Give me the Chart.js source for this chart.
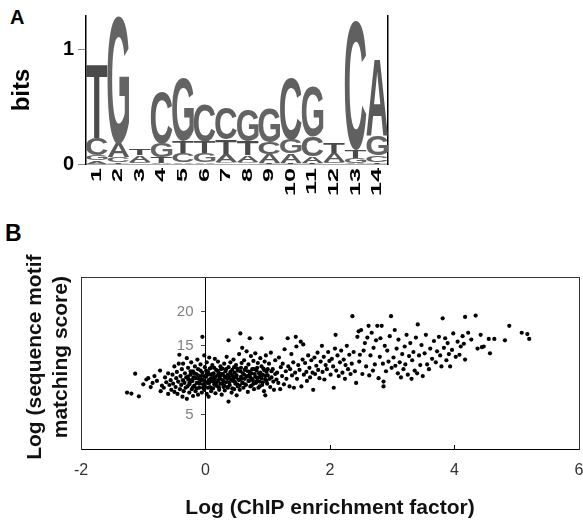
<!DOCTYPE html>
<html lang="en">
<head>
<meta charset="UTF-8">
<title>Motif logo and ChIP enrichment</title>
<script src="https://cdn.jsdelivr.net/npm/chart.js"></script>
<style>
  body { margin: 0; background: #fff; width: 583px; height: 521px; position: relative; overflow: hidden;
         font-family: 'Liberation Sans', Arial, sans-serif; }
  .panel-label { position: absolute; font-weight: bold; color: #000; line-height: 1; }
  #logo { position: absolute; left: 0; top: 0; }
  #scatter { position: absolute; left: 0; top: 220px; }
</style>
</head>
<body>
<div class="panel-label" style="left:10px; top:7px; font-size:20px;">A</div>
<div class="panel-label" style="left:5px; top:222px; font-size:23px;">B</div>
<canvas id="logo" width="400" height="205"></canvas>
<canvas id="scatter" width="583" height="301"></canvas>

<script>
  // ---- panel A : motif logo (bits per letter and position) ----
  const positions = ["1", "2", "3", "4", "5", "6", "7", "8", "9", "10", "11", "12", "13", "14"];
  const bitsA = [0.03, 0.12, 0.06, 0.01, 0.02, 0.02, 0.07, 0.06, 0.08, 0.08, 0.06, 0.08, 0.01, 0.67];
  const bitsC = [0.15, 0.04, 0.01, 0.45, 0.08, 0.32, 0.28, 0.02, 0.10, 0.54, 0.17, 0.01, 1.13, 0.06];
  const bitsG = [0.05, 1.11, 0.01, 0.12, 0.55, 0.08, 0.02, 0.28, 0.30, 0.12, 0.43, 0.01, 0.04, 0.17];
  const bitsT = [0.64, 0.02, 0.06, 0.05, 0.10, 0.10, 0.12, 0.12, 0.01, 0.01, 0.01, 0.09, 0.07, 0.02];
  const bitsTicks = [0, 1];

  // ---- panel B : log enrichment (x) vs log motif score (y) ----
  const leftTail = [
    [-1.26, 8.2], [-1.19, 8.05], [-1.07, 7.66], [-1.13, 10.95], [-1.0, 9.4], [-0.95, 10.1], [-0.92, 10.3],
    [-0.88, 9.0], [-0.85, 9.6], [-0.82, 10.6], [-0.78, 9.9], [-0.73, 11.4], [-0.72, 8.4], [-0.70, 9.2],
    [-0.67, 8.9], [-0.65, 10.4], [-0.63, 9.7], [-0.6, 8.0], [-0.6, 11.0], [-0.58, 9.3], [-0.56, 10.0],
    [-0.55, 8.6], [-0.53, 10.8], [-0.52, 9.5], [-0.5, 12.0], [-0.5, 8.3]
  ];
  const leftCore = [
    [-0.48, 9.0], [-0.47, 10.3], [-0.46, 11.2], [-0.45, 8.0], [-0.44, 9.8], [-0.43, 12.4], [-0.42, 13.7],
    [-0.41, 8.7], [-0.4, 10.6], [-0.39, 9.3], [-0.38, 11.6], [-0.37, 7.6], [-0.36, 12.4], [-0.36, 10.0],
    [-0.35, 8.4], [-0.34, 9.6], [-0.33, 11.0], [-0.32, 8.9], [-0.31, 10.4], [-0.3, 13.2], [-0.3, 7.3],
    [-0.29, 9.1], [-0.28, 11.8], [-0.27, 10.1], [-0.26, 8.2], [-0.25, 9.7],
    [-0.24, 10.8], [-0.23, 12.6], [-0.22, 8.7], [-0.21, 9.9], [-0.2, 11.3], [-0.2, 7.7], [-0.19, 10.4],
    [-0.18, 9.2], [-0.17, 12.0], [-0.16, 8.4], [-0.15, 10.9], [-0.14, 9.6], [-0.13, 13.0], [-0.12, 7.9],
    [-0.12, 11.6], [-0.11, 10.2], [-0.1, 8.9], [-0.09, 9.8], [-0.08, 12.3], [-0.07, 10.6], [-0.06, 8.2],
    [-0.05, 16.3], [-0.05, 11.1], [-0.04, 9.4], [-0.03, 10.0], [-0.02, 13.6], [-0.02, 8.6], [-0.01, 11.9],
    [-0.01, 9.1]
  ];
  const core = [
    [0.01, 10.5], [0.02, 8.0], [0.02, 12.6], [0.03, 9.6], [0.04, 11.2], [0.05, 10.0], [0.05, 7.6], [0.06, 13.3],
    [0.07, 9.0], [0.08, 10.8], [0.09, 11.8], [0.09, 8.4], [0.1, 9.9], [0.11, 12.2], [0.12, 10.4], [0.12, 8.8],
    [0.13, 11.0], [0.14, 9.4], [0.15, 13.1], [0.15, 10.1], [0.16, 8.1], [0.17, 11.5], [0.18, 9.7], [0.19, 10.7],
    [0.2, 12.7], [0.2, 9.1], [0.21, 11.1], [0.22, 8.6], [0.23, 10.3], [0.24, 12.0], [0.24, 9.5], [0.25, 10.9],
    [0.26, 7.9], [0.27, 11.7], [0.28, 10.0], [0.29, 9.0], [0.3, 12.4], [0.3, 10.6],
    [0.31, 8.5], [0.32, 11.3], [0.33, 9.7], [0.34, 13.4], [0.35, 10.2], [0.36, 8.9], [0.37, 15.8], [0.37, 6.9],
    [0.37, 11.9], [0.38, 10.5], [0.39, 9.3], [0.4, 12.6], [0.41, 10.9], [0.42, 8.2], [0.43, 11.5], [0.44, 9.9],
    [0.45, 13.0], [0.45, 10.3], [0.46, 8.7], [0.47, 11.1], [0.48, 9.5], [0.49, 12.2], [0.5, 10.7], [0.5, 7.8],
    [0.51, 11.7], [0.52, 9.1], [0.53, 10.1], [0.54, 13.8], [0.55, 8.6], [0.56, 16.8], [0.56, 11.3], [0.57, 10.5],
    [0.58, 12.5], [0.59, 14.7], [0.59, 9.6],
    [0.6, 11.0], [0.61, 8.9], [0.62, 12.9], [0.63, 10.2], [0.64, 9.4], [0.65, 11.8], [0.66, 14.2], [0.67, 10.6],
    [0.68, 8.3], [0.69, 12.3], [0.7, 9.9], [0.71, 16.1], [0.71, 11.2], [0.72, 10.4], [0.73, 13.5], [0.74, 9.2],
    [0.75, 11.6], [0.76, 10.0], [0.77, 12.8], [0.78, 8.7], [0.79, 10.9], [0.8, 13.9], [0.81, 9.6], [0.82, 11.4],
    [0.83, 10.3], [0.84, 12.5], [0.85, 8.9], [0.86, 11.0], [0.87, 9.8], [0.88, 13.2], [0.89, 10.6], [0.9, 16.1],
    [0.9, 12.0], [0.91, 9.3], [0.92, 10.8], [0.93, 11.7], [0.94, 8.4], [0.95, 12.7], [0.96, 7.8], [0.96, 10.1],
    [0.97, 13.6], [0.98, 11.2], [0.99, 9.5], [1.0, 10.7]
  ];
  const coreDense = [
    [-0.28, 10.5], [-0.26, 9.4], [-0.24, 11.3], [-0.22, 10.0], [-0.2, 9.0], [-0.18, 11.0], [-0.16, 10.3],
    [-0.14, 8.8], [-0.12, 10.7], [-0.1, 9.5], [-0.08, 11.4], [-0.06, 10.1], [-0.04, 8.9], [-0.02, 10.6],
    [0.0, 9.7], [0.01, 11.4], [0.03, 10.8], [0.04, 8.9], [0.06, 9.6], [0.07, 11.7], [0.08, 10.2], [0.1, 8.8],
    [0.11, 10.9], [0.13, 9.8], [0.14, 11.8], [0.16, 10.5], [0.17, 9.2], [0.19, 11.4], [0.21, 10.0], [0.22, 8.9],
    [0.24, 10.7], [0.25, 11.6], [0.27, 9.5], [0.28, 10.9], [0.3, 9.2], [0.32, 10.4], [0.33, 11.6], [0.35, 9.0],
    [0.36, 10.8], [0.38, 9.7], [0.4, 11.2], [0.41, 10.1], [0.43, 8.8], [0.44, 10.6], [0.46, 11.9], [0.47, 9.8],
    [0.49, 10.4], [0.51, 9.4], [0.52, 11.4], [0.54, 10.0], [0.55, 9.2], [0.57, 11.8], [0.58, 10.2], [0.6, 9.6],
    [0.62, 10.8], [0.63, 11.5], [0.65, 9.3], [0.66, 10.5], [0.68, 11.3], [0.69, 9.9], [0.71, 10.8], [0.72, 9.1],
    [0.74, 11.0], [0.75, 10.2], [0.77, 9.5], [0.78, 11.6], [0.8, 10.5], [0.82, 9.8], [0.83, 11.8], [0.85, 10.4],
    [0.87, 9.1], [0.88, 11.1], [0.9, 10.3], [0.92, 9.7], [0.94, 11.5], [0.96, 10.6], [0.98, 9.9], [1.0, 11.6],
    [1.03, 10.2], [1.06, 11.3], [1.09, 9.8], [1.12, 10.9]
  ];
  const midRange = [
    [1.02, 12.4], [1.04, 9.0], [1.05, 14.0], [1.06, 10.4], [1.08, 11.6], [1.1, 8.6], [1.12, 12.9], [1.14, 10.1],
    [1.15, 11.1], [1.17, 9.6], [1.18, 13.3], [1.2, 8.7], [1.21, 11.9], [1.23, 10.6], [1.24, 12.4], [1.26, 9.4],
    [1.27, 14.5], [1.29, 11.3], [1.3, 10.2], [1.32, 16.1], [1.33, 12.0], [1.35, 9.1], [1.36, 11.6], [1.38, 13.8],
    [1.39, 10.7], [1.41, 12.6], [1.42, 8.9], [1.44, 11.1], [1.45, 16.3], [1.46, 14.9], [1.47, 10.2], [1.49, 12.2],
    [1.51, 11.5], [1.53, 15.6], [1.54, 9.1], [1.56, 13.0], [1.57, 15.2], [1.58, 10.8], [1.6, 12.5], [1.62, 11.2],
    [1.63, 9.9], [1.65, 13.6], [1.67, 11.8], [1.68, 10.4], [1.7, 12.9], [1.72, 11.1], [1.73, 8.6], [1.75, 13.3],
    [1.76, 10.9], [1.78, 12.1], [1.8, 14.0], [1.81, 11.5], [1.83, 10.3], [1.85, 12.7], [1.87, 15.0], [1.88, 11.2],
    [1.9, 13.4], [1.91, 10.1], [1.93, 12.2], [1.95, 11.6], [1.97, 14.1], [1.99, 12.8]
  ];
  const upperRange = [
    [2.01, 10.8], [2.03, 13.1], [2.05, 12.0], [2.06, 8.9], [2.08, 14.6], [2.09, 16.6], [2.1, 11.4], [2.12, 13.6],
    [2.14, 10.6], [2.16, 12.6], [2.18, 14.3], [2.2, 11.1], [2.22, 13.0], [2.24, 10.2], [2.25, 12.2], [2.27, 15.0],
    [2.29, 11.6], [2.31, 13.7], [2.33, 10.9], [2.35, 12.4], [2.36, 19.3], [2.38, 14.1], [2.4, 11.3], [2.42, 9.6],
    [2.44, 16.3], [2.46, 17.1], [2.47, 12.7], [2.48, 13.7], [2.5, 17.3],
    [2.52, 10.9], [2.54, 14.3], [2.56, 15.4], [2.58, 12.0], [2.6, 16.2], [2.62, 17.9], [2.63, 10.7], [2.65, 13.6],
    [2.67, 16.9], [2.69, 11.4], [2.7, 14.7], [2.72, 12.3], [2.74, 15.8], [2.76, 17.9], [2.78, 10.3], [2.8, 13.4],
    [2.81, 16.1], [2.83, 17.9], [2.85, 12.4], [2.86, 9.1], [2.86, 9.8], [2.88, 15.0], [2.9, 11.3], [2.92, 14.3],
    [2.94, 12.7], [2.96, 16.4], [2.98, 19.3], [2.99, 11.8],
    [3.02, 13.3], [3.04, 17.3], [3.05, 12.1], [3.07, 14.6], [3.09, 11.0], [3.1, 15.9], [3.12, 12.6], [3.14, 10.4],
    [3.16, 13.8], [3.18, 11.6], [3.2, 14.9], [3.21, 12.3], [3.23, 16.6], [3.25, 10.8], [3.27, 13.5], [3.29, 15.4],
    [3.31, 10.2], [3.32, 12.9], [3.34, 14.1], [3.36, 11.4], [3.38, 16.2], [3.4, 11.0], [3.41, 18.1], [3.43, 13.6],
    [3.45, 12.2], [3.47, 15.1], [3.49, 10.6]
  ];
  const highRange = [
    [3.52, 13.9], [3.54, 16.6], [3.56, 12.3], [3.59, 11.6], [3.61, 14.6], [3.64, 13.1], [3.67, 15.7], [3.7, 12.6],
    [3.72, 14.2], [3.75, 16.3], [3.77, 13.6], [3.79, 12.0], [3.81, 19.0], [3.83, 14.7], [3.85, 16.1], [3.87, 12.9],
    [3.89, 15.4], [3.91, 13.8], [3.93, 12.0], [3.96, 14.4], [3.98, 16.8],
    [4.02, 13.4], [4.05, 15.6], [4.08, 13.7], [4.1, 14.9], [4.13, 16.4], [4.15, 15.3], [4.17, 13.0], [4.17, 19.2],
    [4.22, 16.9], [4.27, 15.9], [4.34, 19.4], [4.37, 14.6], [4.44, 14.8], [4.42, 16.6], [4.47, 14.9], [4.57, 13.9],
    [4.55, 16.0], [4.64, 16.0], [4.81, 15.8], [4.88, 17.9], [5.08, 16.9], [5.17, 16.7], [5.2, 16.0]
  ];
  const enrichTicks = [-2, 0, 2, 4, 6];
  const scoreTicks = [5, 10, 15, 20];

  Chart.defaults.font.family = "'Liberation Sans', Arial, sans-serif";

  // logo: each column sorted so the biggest letter sits on top
  const letterColors = { A: "#5a5a5a", C: "#606060", G: "#646464", T: "#4a4a4a" };
  const stackRows = [[], [], [], []];
  positions.forEach((p, i) => {
    const col = [["A", bitsA[i]], ["C", bitsC[i]], ["G", bitsG[i]], ["T", bitsT[i]]];
    col.sort((a, b) => a[1] - b[1]);
    col.forEach((entry, r) => stackRows[r].push(entry));
  });
  const logoDatasets = stackRows.map(row => ({
    data: row.map(e => e[1]),
    letters: row.map(e => e[0]),
    backgroundColor: "rgba(0,0,0,0)",
    borderWidth: 0,
    barPercentage: 1,
    categoryPercentage: 1
  }));

  const glyphFont = "bold 100px 'Liberation Sans'";
  const glyphCache = {};
  function glyphBox(ctx, ch) {
    if (!glyphCache[ch]) {
      ctx.save();
      ctx.font = glyphFont;
      ctx.textAlign = "left";
      const m = ctx.measureText(ch);
      glyphCache[ch] = { l: m.actualBoundingBoxLeft, r: m.actualBoundingBoxRight,
                         a: m.actualBoundingBoxAscent, d: m.actualBoundingBoxDescent };
      ctx.restore();
    }
    return glyphCache[ch];
  }

  // stretch every letter into its bar rectangle
  const letterPlugin = {
    id: "letters",
    afterDatasetsDraw(chart) {
      const ctx = chart.ctx;
      chart.data.datasets.forEach((ds, i) => {
        chart.getDatasetMeta(i).data.forEach((bar, j) => {
          const p = bar.getProps(["x", "y", "base", "width"], true);
          const h = p.base - p.y;
          if (h < 0.5) return;
          const ch = ds.letters[j];
          const g = glyphBox(ctx, ch);
          ctx.save();
          ctx.translate(p.x - p.width / 2, p.y);
          ctx.scale(p.width / (g.l + g.r), h / (g.a + g.d));
          ctx.font = glyphFont;
          ctx.textAlign = "left";
          ctx.textBaseline = "alphabetic";
          ctx.fillStyle = letterColors[ch];
          ctx.fillText(ch, g.l, g.a);
          ctx.restore();
        });
      });
    },
    // position numbers, rotated and stretched like the original
    afterDraw(chart) {
      const ctx = chart.ctx;
      const xs = chart.scales.x;
      positions.forEach((lab, i) => {
        ctx.save();
        ctx.translate(xs.getPixelForValue(i), 168);
        ctx.rotate(-Math.PI / 2);
        ctx.scale(1.8, 1);
        ctx.font = "bold 14px 'Liberation Sans'";
        ctx.textAlign = "right";
        ctx.textBaseline = "middle";
        ctx.fillStyle = "#000";
        ctx.fillText(lab, 0, 0);
        ctx.restore();
      });
    }
  };

  new Chart(document.getElementById("logo"), {
    type: "bar",
    data: { labels: positions, datasets: logoDatasets },
    plugins: [letterPlugin],
    options: {
      responsive: false,
      animation: false,
      events: [],
      layout: { padding: { top: 12, right: 12, left: 0, bottom: 0 } },
      plugins: { legend: { display: false }, tooltip: { enabled: false } },
      scales: {
        x: {
          stacked: true,
          offset: true,
          ticks: { display: false },
          grid: { display: false },
          border: { display: true, color: "#aaa", dash: [1, 2] },
          afterFit: s => { s.height = 41; }
        },
        y: {
          stacked: true,
          min: 0,
          max: 1.29,
          afterBuildTicks: s => { s.ticks = bitsTicks.map(v => ({ value: v })); },
          afterFit: s => { s.width = 86; },
          ticks: { font: { weight: "bold", size: 20 }, color: "#000", padding: 4 },
          grid: { drawOnChartArea: false, tickLength: 8, color: "#888" },
          border: { color: "#000", width: 1.5 },
          title: { display: true, text: "bits", color: "#000",
                   font: { weight: "bold", size: 24 }, padding: { top: 8, bottom: 0 } }
        },
        y2: {
          position: "right",
          min: 0,
          max: 1.29,
          afterFit: s => { s.width = 0; },
          ticks: { display: false },
          grid: { drawOnChartArea: false, drawTicks: false },
          border: { color: "#000", width: 1.5 }
        }
      }
    }
  });

  // scatter
  const scatterPoints = [].concat(leftTail, leftCore, core, coreDense, midRange, upperRange, highRange)
    .map(p => ({ x: p[0], y: p[1] }));

  // labels of the axis that crosses at x = 0 sit a little left of it, under the dots
  const scoreLabels = {
    id: "scoreLabels",
    beforeDatasetsDraw(chart) {
      const ctx = chart.ctx;
      const x0 = chart.scales.x.getPixelForValue(0);
      ctx.save();
      ctx.font = "15px 'Liberation Sans'";
      ctx.fillStyle = "#808080";
      ctx.textAlign = "right";
      ctx.textBaseline = "middle";
      scoreTicks.forEach(v => ctx.fillText(String(v), x0 - 12, chart.scales.y.getPixelForValue(v)));
      ctx.restore();
    }
  };

  const boxSide = {
    min: 0,
    max: 1,
    ticks: { display: false },
    grid: { drawOnChartArea: false, drawTicks: false },
    border: { color: "#333", width: 1 }
  };

  new Chart(document.getElementById("scatter"), {
    type: "scatter",
    data: {
      datasets: [{
        data: scatterPoints,
        backgroundColor: "#000",
        borderWidth: 0,
        pointRadius: 2.1,
        pointHoverRadius: 2.1
      }]
    },
    plugins: [scoreLabels],
    options: {
      responsive: false,
      animation: false,
      events: [],
      layout: { padding: { top: 57, right: 4, left: 0, bottom: 0 } },
      plugins: { legend: { display: false }, tooltip: { enabled: false } },
      scales: {
        x: {
          type: "linear",
          position: "bottom",
          min: -2,
          max: 6,
          afterBuildTicks: s => { s.ticks = enrichTicks.map(v => ({ value: v })); },
          // the "6" may hang past the box, like in the original
          afterFit: s => { s.height = 72; s.paddingLeft = 0; s.paddingRight = 0; },
          ticks: { font: { size: 16 }, color: "#333", padding: 16 },
          grid: { drawOnChartArea: false, tickLength: -4, color: "#000" },
          border: { color: "#000", width: 1 },
          title: { display: true, text: "Log (ChIP enrichment factor)", color: "#111",
                   font: { size: 21, weight: "bold" }, padding: { top: 0, bottom: 0 } }
        },
        y: {
          type: "linear",
          position: { x: 0 },
          min: 0,
          max: 25,
          afterBuildTicks: s => { s.ticks = scoreTicks.map(v => ({ value: v })); },
          ticks: { display: false },
          grid: { drawOnChartArea: false, tickLength: 4, color: "#444" },
          border: { color: "#000", width: 1 }
        },
        yl: Object.assign({}, boxSide, {
          position: "left",
          afterFit: s => { s.width = 81; },
          title: { display: true, text: ["  Log (sequence motif", "  matching score)"], color: "#111",
                   font: { size: 21, weight: "bold", lineHeight: 1.25 }, padding: { top: 22, bottom: 0 } }
        }),
        yr: Object.assign({}, boxSide, { position: "right", afterFit: s => { s.width = 0; } }),
        xt: Object.assign({}, boxSide, { type: "linear", position: "top", afterFit: s => { s.height = 0; } })
      }
    }
  });
</script>
</body>
</html>
